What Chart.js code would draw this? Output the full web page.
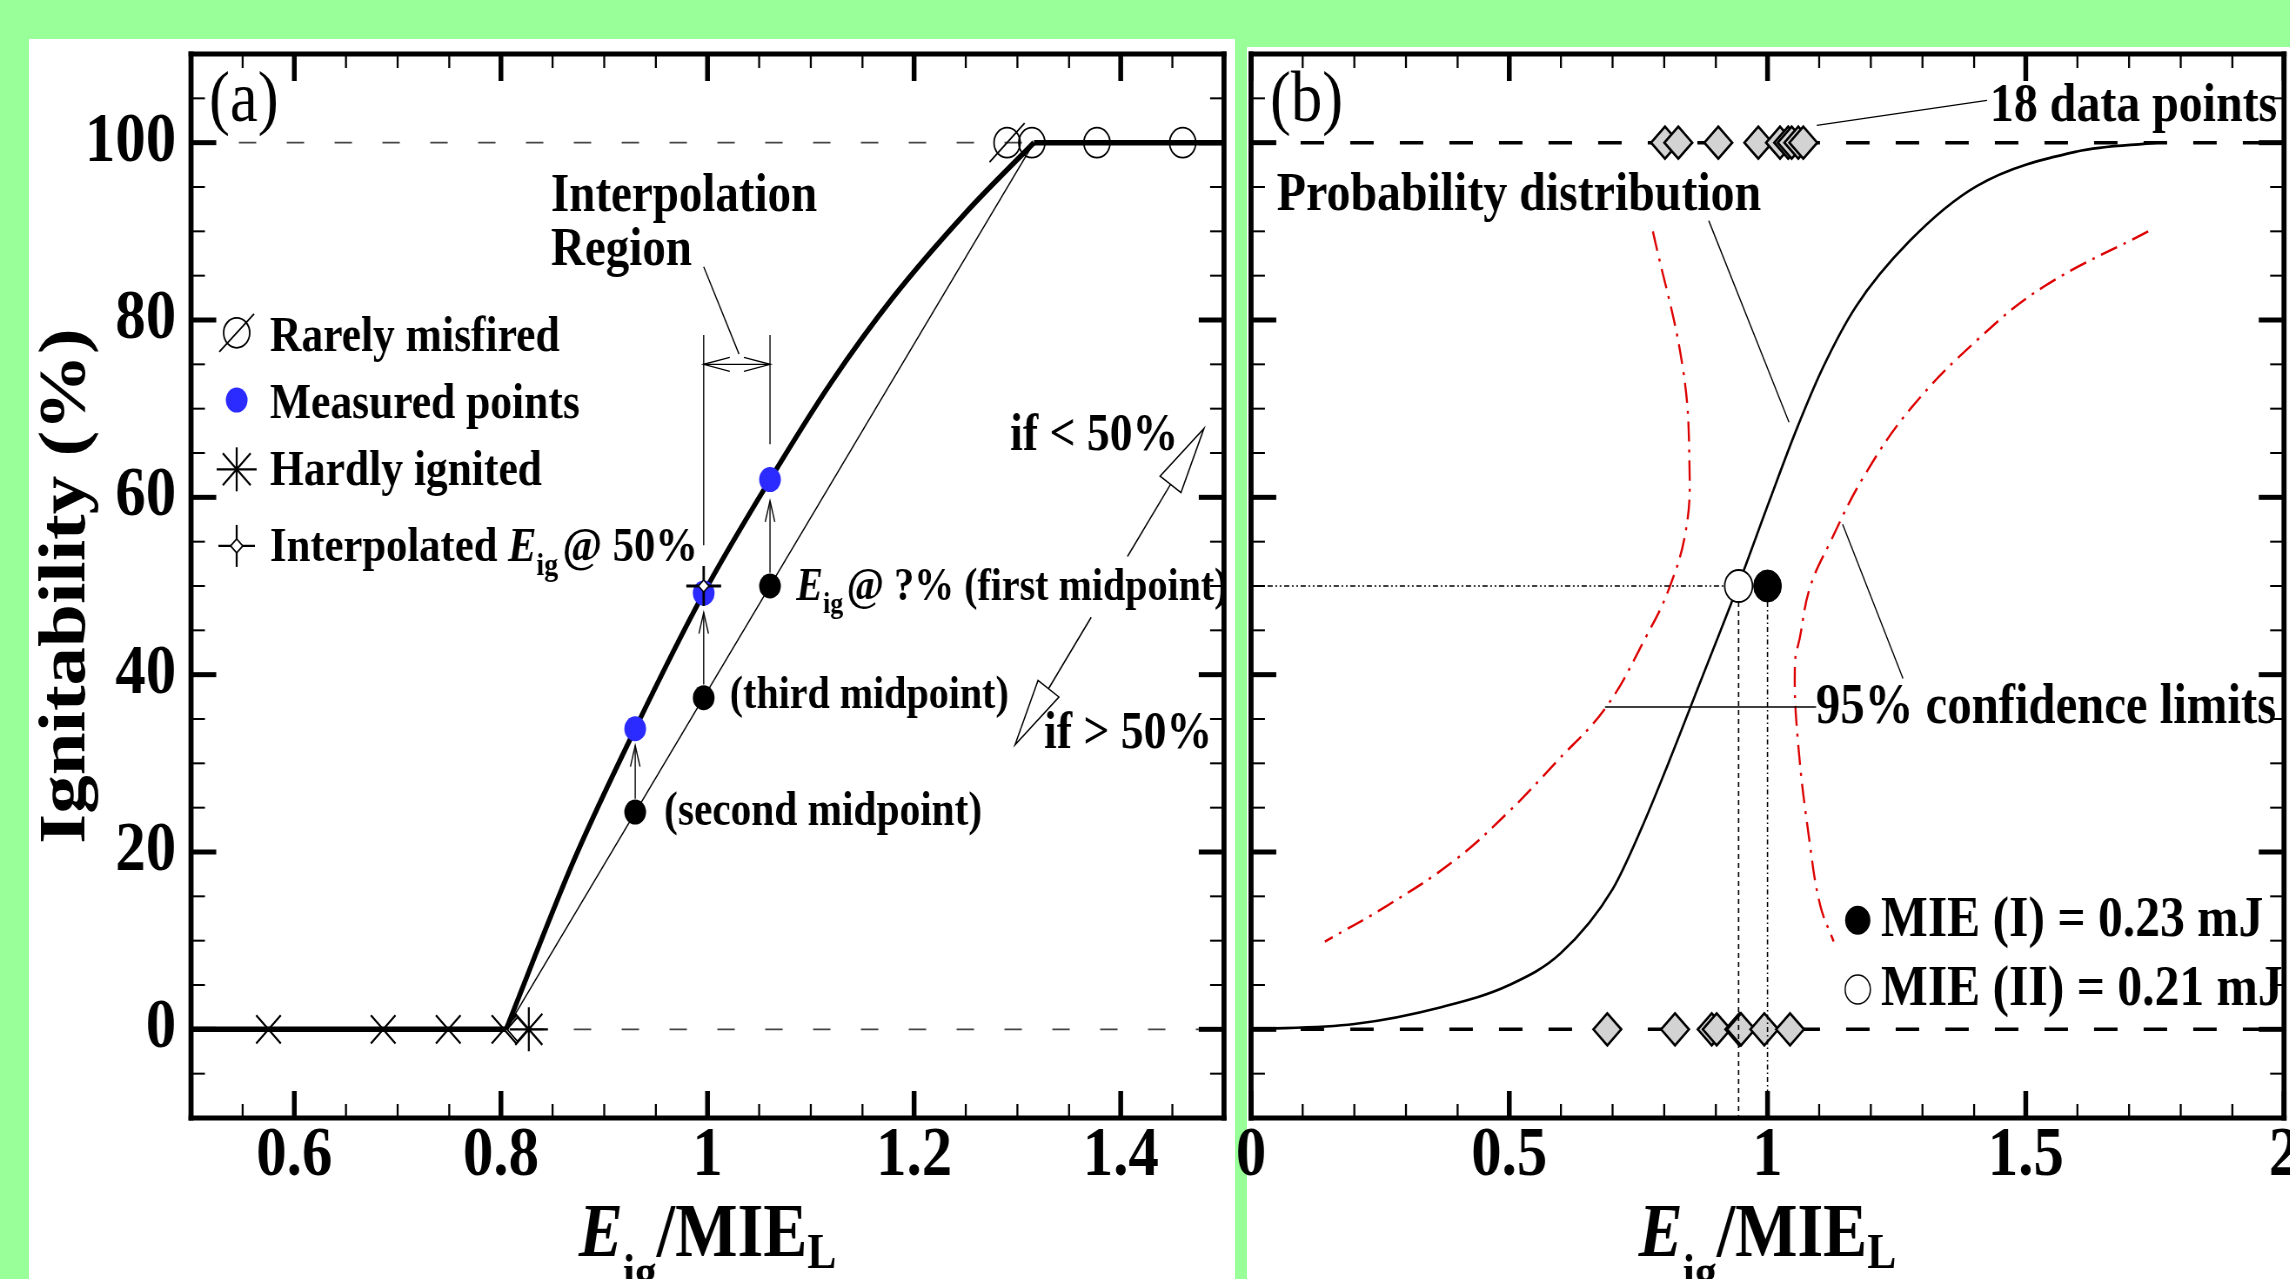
<!DOCTYPE html>
<html>
<head>
<meta charset="utf-8">
<script src="https://cdn.jsdelivr.net/npm/chart.js@4.4.1/dist/chart.umd.min.js"></script>
<style>
html,body{margin:0;padding:0;width:2290px;height:1279px;overflow:hidden;background:#99ff99;}
.panel{position:absolute;background:#ffffff;}
canvas{position:absolute;left:0;top:0;transform-origin:0 0;}
</style>
</head>
<body>
<div class="panel" style="left:29px;top:39px;width:1206px;height:1240px"></div>
<div class="panel" style="left:1247px;top:47px;width:1043px;height:1232px"></div>
<canvas id="ca"></canvas>
<canvas id="cb"></canvas>
<script>
// ================= DATA : panel (a) =================
const xTicksA = [0.6, 0.8, 1, 1.2, 1.4];
const xTickLabelsA = ['0.6', '0.8', '1', '1.2', '1.4'];
const yTicksA = [0, 20, 40, 60, 80, 100];
const yTickLabelsA = ['0', '20', '40', '60', '80', '100'];

const hardlyIgnitedX = [0.575, 0.686, 0.749, 0.803];   // x marks at 0 %
const hardlyStarX = [0.827];                          // asterisk at 0 %
const openDiamondX = [0.816];
const ignitedX = [1.314, 1.377, 1.46];                 // open circles at 100 %
const rarelyMisfiredX = [1.29];                        // slashed circle at 100 %
const measuredX = [0.930, 0.9963, 1.0605];
const measuredY = [33.9, 49.2, 62.0];
const midpointX = [1.0605, 0.9963, 0.930];
const midpointY = [50.0, 37.4, 24.5];
const interpX = [0.9963];
const interpY = [50];
const fitAX = [0.805, 0.87, 0.93, 0.9963, 1.0605, 1.12, 1.18, 1.25, 1.316];
const fitAY = [0, 18.9, 33.9, 49.2, 62.0, 73.0, 82.6, 92.1, 100];
const floorAX = [0.5, 0.805];
const floorAY = [0, 0];
const ceilAX = [1.316, 1.5];
const ceilAY = [100, 100];
const chordX = [0.805, 1.316];
const chordY = [0, 100];

// ================= DATA : panel (b) =================
const xTicksB = [0, 0.5, 1, 1.5, 2];
const xTickLabelsB = ['0', '0.5', '1', '1.5', '2'];
const probX = [0, 0.2, 0.368, 0.5, 0.6, 0.7, 0.757, 0.808, 0.87, 0.944, 1.003, 1.055, 1.107, 1.171, 1.275, 1.405, 1.599, 1.755];
const probY = [0, 0.6, 2.5, 5.0, 8.6, 15.8, 22.8, 30.0, 39.2, 50.2, 59.5, 67.5, 74.6, 81.5, 88.9, 95.1, 99.0, 100];
const lowerX = [0.778, 0.836, 0.849, 0.842, 0.81, 0.765, 0.687, 0.59, 0.5, 0.395, 0.265, 0.143];
const lowerY = [90, 74.6, 63.2, 56.3, 49.8, 44.3, 36.3, 30.1, 24.6, 19.1, 14, 9.9];
const upperX = [1.737, 1.536, 1.407, 1.277, 1.186, 1.121, 1.082, 1.063, 1.053, 1.059, 1.082, 1.102, 1.128];
const upperY = [90, 83.8, 77.8, 70, 62.3, 54.9, 49.8, 44.3, 41.1, 32.4, 20.9, 14, 9.9];
const ignitedB = [0.8015, 0.8273, 0.9047, 0.9822, 1.0242, 1.040, 1.0468, 1.0596, 1.0693];   // at 100 %
const misfiredB = [0.6898, 0.8209, 0.892, 0.9016, 0.9454, 0.947, 0.9487, 0.9938, 1.0436];  // at 0 %
const mieI = { x: 1.0, y: 50 };
const mieII = { x: 0.944, y: 50 };

// ================= helpers =================
const SQ = 0.87;                        // horizontal compression of the original figure
const CW = Math.round(2290 / SQ);
const CH = 1279;
const FONT = '"Liberation Serif", "Times New Roman", serif';
Chart.defaults.font.family = FONT;

const pts = (xs, ys) => xs.map((x, i) => ({ x, y: ys[i] }));
const row = (xs, y) => xs.map(x => ({ x, y }));

function lineDS(data, color, width, extra) {
  return Object.assign({ data, showLine: true, borderColor: color, backgroundColor: color,
    borderWidth: width, pointRadius: 0, fill: false }, extra || {});
}
function markDS(data, style, radius, fill, stroke, bw, extra) {
  return Object.assign({ data, showLine: false, pointStyle: style, pointRadius: radius,
    pointBackgroundColor: fill, pointBorderColor: stroke, pointBorderWidth: bw,
    backgroundColor: fill, borderColor: stroke }, extra || {});
}
function ln(ctx, x1, y1, x2, y2) { ctx.beginPath(); ctx.moveTo(x1, y1); ctx.lineTo(x2, y2); ctx.stroke(); }
function rich(ctx, x, y, parts, size, align) {
  const items = parts.map(p => {
    const t = p[0], f = p[1] || '';
    if (f.includes('g')) return { t: '', font: '', w: p[2], dy: 0 };
    const sub = f.includes('s');
    const sz = sub ? (p[3] || size * 0.66) : size;
    const font = (f.includes('i') ? 'italic ' : '') + (f.includes('r') ? '' : 'bold ') + sz + 'px ' + FONT;
    ctx.font = font;
    return { t, font, w: ctx.measureText(t).width, dy: sub ? (p[2] !== undefined ? p[2] : size * 0.26) : 0 };
  });
  const total = items.reduce((s, it) => s + it.w, 0);
  let cx = align === 'center' ? x - total / 2 : (align === 'right' ? x - total : x);
  ctx.textAlign = 'left'; ctx.textBaseline = 'alphabetic';
  for (const it of items) {
    if (it.t) { ctx.font = it.font; ctx.fillText(it.t, cx, y + it.dy); }
    cx += it.w;
  }
}
function vHead(ctx, tx, ty, ux, uy, len, half) {
  const bx = tx - ux * len, by = ty - uy * len, px = -uy, py = ux;
  ctx.beginPath();
  ctx.moveTo(bx + px * half, by + py * half); ctx.lineTo(tx, ty); ctx.lineTo(bx - px * half, by - py * half);
  ctx.stroke();
}
function triHead(ctx, tx, ty, ux, uy, len, half) {
  const bx = tx - ux * len, by = ty - uy * len, px = -uy, py = ux;
  ctx.beginPath();
  ctx.moveTo(tx, ty); ctx.lineTo(bx + px * half, by + py * half); ctx.lineTo(bx - px * half, by - py * half);
  ctx.closePath(); ctx.fillStyle = '#fff'; ctx.fill(); ctx.stroke(); ctx.fillStyle = '#000';
  return [bx, by];
}
function minorList(lo, hi, step, majors) {
  const out = [];
  for (let v = lo; v <= hi + 1e-9; v += step) {
    const r = Math.round(v * 1000) / 1000;
    if (!majors.some(m => Math.abs(m - r) < 1e-6)) out.push(r);
  }
  return out;
}
function framePlugin(cfg) {
  return {
    id: 'frame',
    afterDraw(chart) {
      const { ctx, chartArea: a } = chart;
      const xs = chart.scales.x, ys = chart.scales.y;
      ctx.save();
      ctx.strokeStyle = '#000'; ctx.lineCap = 'butt';
      const vt = (v, len, w) => { const X = xs.getPixelForValue(v); ctx.lineWidth = w; ln(ctx, X, a.bottom, X, a.bottom - len); ln(ctx, X, a.top, X, a.top + len); };
      const ht = (v, len, w) => { const Y = ys.getPixelForValue(v); ctx.lineWidth = w; ln(ctx, a.left, Y, a.left + len, Y); ln(ctx, a.right, Y, a.right - len, Y); };
      cfg.xMinor.forEach(v => vt(v, 14, 2.3));
      cfg.xMajor.forEach(v => vt(v, 27, 5.5));
      cfg.yMinor.forEach(v => ht(v, 16, 2));
      cfg.yMajor.forEach(v => ht(v, 29, 5));
      ctx.lineWidth = 5.8;
      ln(ctx, a.left, a.top - 2.5, a.left, a.bottom + 2.5);
      ln(ctx, a.right, a.top - 2.5, a.right, a.bottom + 2.5);
      ctx.lineWidth = 5;
      ln(ctx, a.left - 2.9, a.top, a.right + 2.9, a.top);
      ln(ctx, a.left - 2.9, a.bottom, a.right + 2.9, a.bottom);
      ctx.restore();
    }
  };
}
const tickFont = { family: FONT, weight: 'bold', size: 70, lineHeight: 1 };

// ================= annotations (a) =================
const annotateA = {
  id: 'annotateA',
  afterDatasetsDraw(chart) {
    const ctx = chart.ctx;
    const X = v => chart.scales.x.getPixelForValue(v);
    const Y = v => chart.scales.y.getPixelForValue(v);
    ctx.save();
    ctx.fillStyle = '#000'; ctx.strokeStyle = '#000';
    rich(ctx, X(0.5174), Y(102.4), [['(a)', 'r']], 72);

    // legend
    const lx = X(0.5442), tx = X(0.5765), fs = 50;
    ctx.lineWidth = 1.8;
    ctx.beginPath(); ctx.arc(lx, Y(78.55), 15, 0, Math.PI * 2); ctx.stroke();
    ln(ctx, lx - 20, Y(78.55) + 19, lx + 20, Y(78.55) - 19);
    rich(ctx, tx, Y(76.5), [['Rarely misfired']], fs);
    ctx.fillStyle = '#2b2bff';
    ctx.beginPath(); ctx.arc(lx, Y(70.97), 12.5, 0, Math.PI * 2); ctx.fill();
    ctx.fillStyle = '#000';
    rich(ctx, tx, Y(68.9), [['Measured points']], fs);
    const sy = Y(63.16);
    ctx.lineWidth = 2.2;
    ln(ctx, lx, sy - 22, lx, sy + 22); ln(ctx, lx - 23, sy, lx + 23, sy);
    ln(ctx, lx - 16, sy - 16, lx + 16, sy + 16); ln(ctx, lx - 16, sy + 16, lx + 16, sy - 16);
    rich(ctx, tx, Y(61.4), [['Hardly ignited']], fs);
    const iy = Y(54.52);
    ctx.lineWidth = 2.2;
    ln(ctx, lx, iy - 21, lx, iy + 21); ln(ctx, lx - 21, iy, lx + 21, iy);
    ctx.beginPath(); ctx.moveTo(lx - 7, iy); ctx.lineTo(lx, iy - 7); ctx.lineTo(lx + 7, iy); ctx.lineTo(lx, iy + 7); ctx.closePath();
    ctx.fillStyle = '#fff'; ctx.fill(); ctx.lineWidth = 1.6; ctx.stroke(); ctx.fillStyle = '#000';
    rich(ctx, tx, Y(52.8), [['Interpolated '], ['E', 'i'], ['ig', 's', 14, 32], ['', 'g', 5], ['@ 50%']], 49);

    // interpolation region
    rich(ctx, X(0.8485), Y(92.3), [['Interpolation']], 54);
    rich(ctx, X(0.8485), Y(86.2), [['Region']], 54);
    ctx.lineWidth = 1.4;
    ln(ctx, X(0.9963), Y(86.0), X(1.0305), Y(76.15));
    ln(ctx, X(0.9963), Y(78.3), X(0.9963), Y(54.6));
    ln(ctx, X(1.0605), Y(78.3), X(1.0605), Y(66.0));
    ln(ctx, X(0.9963), Y(75), X(1.0605), Y(75));
    vHead(ctx, X(0.9963), Y(75), -1, 0, 30, 7);
    vHead(ctx, X(1.0605), Y(75), 1, 0, 30, 7);

    // small vertical arrows midpoint -> measured
    ctx.lineWidth = 1.4;
    [[0.930, 26.0, 32.0], [0.9963, 38.9, 47.0], [1.0605, 51.5, 59.6]].forEach(a => {
      ln(ctx, X(a[0]), Y(a[1]), X(a[0]), Y(a[2]));
      vHead(ctx, X(a[0]), Y(a[2]), 0, -1, 21, 5.5);
    });

    // midpoint labels
    rich(ctx, X(1.086), Y(48.4), [['E', 'i'], ['ig', 's', 13, 30], ['', 'g', 4], ['@ ?% (first midpoint)']], 46);
    rich(ctx, X(1.0215), Y(36.2), [['(third midpoint)']], 46);
    rich(ctx, X(0.958), Y(23.0), [['(second midpoint)']], 47.5);
    rich(ctx, X(1.293), Y(65.3), [['if < 50%']], 52.5);
    rich(ctx, X(1.3258), Y(31.7), [['if > 50%']], 52.5);

    // big double arrow
    const T1x = X(1.4806), T1y = Y(67.78), T2x = X(1.2977), T2y = Y(32.1);
    const L = Math.hypot(T1x - T2x, T1y - T2y), ux = (T1x - T2x) / L, uy = (T1y - T2y) / L;
    ctx.lineWidth = 1.5;
    const b1 = triHead(ctx, T1x, T1y, ux, uy, 0.177 * L, 0.038 * L);
    const b2 = triHead(ctx, T2x, T2y, -ux, -uy, 0.177 * L, 0.038 * L);
    ln(ctx, b1[0], b1[1], T1x - ux * 0.405 * L, T1y - uy * 0.405 * L);
    ln(ctx, T1x - ux * 0.597 * L, T1y - uy * 0.597 * L, b2[0], b2[1]);

    // axis titles
    const a = chart.chartArea;
    rich(ctx, X(1.0), 1256, [['E', 'i'], ['ig', 's', 33, 50], ['/MIE'], ['L', 's', 12, 50]], 76, 'center');
    ctx.save();
    ctx.translate(96.6, (a.top + a.bottom) / 2);
    ctx.rotate(-Math.PI / 2);
    ctx.font = 'bold 77px ' + FONT; ctx.textAlign = 'center'; ctx.textBaseline = 'alphabetic';
    ctx.fillText('Ignitability (%)', 0, 0);
    ctx.restore();
    ctx.restore();
  }
};

// ================= annotations (b) =================
const annotateB = {
  id: 'annotateB',
  afterDatasetsDraw(chart) {
    const ctx = chart.ctx;
    const X = v => chart.scales.x.getPixelForValue(v);
    const Y = v => chart.scales.y.getPixelForValue(v);
    ctx.save();
    ctx.fillStyle = '#000'; ctx.strokeStyle = '#000';
    rich(ctx, X(0.0368), Y(102.5), [['(b)', 'r']], 72);
    rich(ctx, X(0.05), Y(92.37), [['Probability distribution']], 55);
    rich(ctx, X(1.4308), Y(102.47), [['18 data points']], 55);
    rich(ctx, X(1.0939), Y(34.52), [['95% confidence limits']], 56);
    ctx.lineWidth = 1.4;
    ln(ctx, X(0.8862), Y(91.21), X(1.0416), Y(68.46));
    ln(ctx, X(1.0953), Y(101.95), X(1.425), Y(104.77));
    ln(ctx, X(0.6854), Y(36.35), X(1.0939), Y(36.35));
    ln(ctx, X(1.1454), Y(56.97), X(1.2623), Y(39.56));
    // legend
    ctx.beginPath(); ctx.arc(X(1.1747), Y(12.31), 14.5, 0, Math.PI * 2); ctx.fill();
    rich(ctx, X(1.2198), Y(10.51), [['MIE (I) = 0.23 mJ']], 57);
    ctx.lineWidth = 1.5;
    ctx.beginPath(); ctx.arc(X(1.1747), Y(4.5), 14.5, 0, Math.PI * 2); ctx.stroke();
    rich(ctx, X(1.2198), Y(2.7), [['MIE (II) = 0.21 mJ']], 57);
    // axis title
    rich(ctx, X(1.0), 1256, [['E', 'i'], ['ig', 's', 33, 50], ['/MIE'], ['L', 's', 12, 50]], 76, 'center');
    ctx.restore();
  }
};

// ================= canvas setup =================
function setup(id) {
  const c = document.getElementById(id);
  c.width = CW; c.height = CH;
  c.style.width = CW + 'px'; c.style.height = CH + 'px';
  c.style.transform = 'scaleX(' + SQ + ')';
  return c;
}
const yMinorAll = minorList(-5, 105, 5, yTicksA);

// chart area in canvas units
const A_LEFT = 191 / SQ, A_RIGHT = 1224 / SQ, TOP = 54, BOTTOM = 1118;
const B_LEFT = 1251 / SQ, B_RIGHT = 2284 / SQ;

const commonOpts = {
  responsive: false, animation: false, devicePixelRatio: 1, events: [],
  plugins: { legend: { display: false }, tooltip: { enabled: false } }
};

new Chart(setup('ca'), {
  type: 'scatter',
  data: {
    datasets: [
      lineDS(pts([0.5, 1.5], [100, 100]), '#444', 1.6, { borderDash: [20, 35], order: 20 }),
      lineDS(pts([0.5, 1.5], [0, 0]), '#444', 1.6, { borderDash: [20, 35], order: 20 }),
      lineDS(pts(chordX, chordY), '#000', 1.5, { order: 12 }),
      lineDS(pts(floorAX, floorAY), '#000', 5.5, { order: 10 }),
      lineDS(pts(fitAX, fitAY), '#000', 5.5, { cubicInterpolationMode: 'monotone', order: 10 }),
      lineDS(pts(ceilAX, ceilAY), '#000', 5.5, { order: 10 }),
      markDS(row(ignitedX, 100), 'circle', 15, 'rgba(0,0,0,0)', '#000', 1.8, { order: 5 }),
      markDS(row(rarelyMisfiredX, 100), 'circle', 15, 'rgba(0,0,0,0)', '#000', 1.8, { order: 5 }),
      markDS(row(rarelyMisfiredX, 100), 'line', 28, '#000', '#000', 1.8, { pointRotation: -44, order: 5 }),
      markDS(row(hardlyIgnitedX, 0), 'crossRot', 20, '#000', '#000', 2.2, { order: 5 }),
      markDS(row(hardlyStarX, 0), 'star', 22, '#000', '#000', 2.2, { order: 5 }),
      markDS(row(openDiamondX, 0), 'rectRot', 12, 'rgba(0,0,0,0)', '#000', 1.8, { order: 5 }),
      markDS(pts(measuredX, measuredY), 'circle', 12.5, '#2b2bff', '#2b2bff', 0, { order: 3 }),
      markDS(pts(midpointX, midpointY), 'circle', 12.5, '#000', '#000', 0, { order: 3 }),
      markDS(pts(interpX, interpY), 'cross', 20, '#000', '#000', 2.8, { order: 2 }),
      markDS(pts(interpX, interpY), 'rectRot', 6, '#fff', '#000', 1.5, { order: 1 })
    ]
  },
  options: Object.assign({}, commonOpts, {
    layout: { autoPadding: false, padding: { left: 0, right: CW - A_RIGHT, top: TOP, bottom: 0 } },
    scales: {
      x: {
        type: 'linear', min: 0.5, max: 1.5,
        afterBuildTicks: s => { s.ticks = xTicksA.map(v => ({ value: v })); },
        afterFit: s => { s.height = CH - BOTTOM; s.paddingLeft = 0; s.paddingRight = 0; },
        grid: { display: false, drawTicks: false }, border: { display: false },
        ticks: { font: tickFont, color: '#000', padding: 4, maxRotation: 0, autoSkip: false,
          callback: (v, i) => xTickLabelsA[i] }
      },
      y: {
        type: 'linear', min: -10, max: 110,
        afterBuildTicks: s => { s.ticks = yTicksA.map(v => ({ value: v })); },
        afterFit: s => { s.width = A_LEFT; s.paddingTop = 0; s.paddingBottom = 0; },
        grid: { display: false, drawTicks: false }, border: { display: false },
        ticks: { font: tickFont, color: '#000', padding: 17, autoSkip: false,
          callback: (v, i) => yTickLabelsA[i] }
      }
    }
  }),
  plugins: [annotateA, framePlugin({
    xMajor: xTicksA, xMinor: minorList(0.55, 1.45, 0.05, xTicksA),
    yMajor: yTicksA, yMinor: yMinorAll
  })]
});

new Chart(setup('cb'), {
  type: 'scatter',
  data: {
    datasets: [
      lineDS(pts([0, 2], [100, 100]), '#000', 3.5, { borderDash: [27, 30], order: 20 }),
      lineDS(pts([0, 2], [0, 0]), '#000', 3.5, { borderDash: [27, 30], order: 20 }),
      lineDS(pts(probX, probY), '#000', 2.6, { cubicInterpolationMode: 'monotone', order: 10 }),
      lineDS(pts(lowerX, lowerY), '#dd0000', 2.4, { tension: 0.4, borderDash: [20, 8, 3, 8], order: 11 }),
      lineDS(pts(upperX, upperY), '#dd0000', 2.4, { tension: 0.4, borderDash: [20, 8, 3, 8], order: 11 }),
      lineDS(pts([0, mieII.x], [50, 50]), '#000', 1.6, { borderDash: [6, 3, 2, 3, 2, 3], order: 9 }),
      markDS(row(ignitedB, 100), 'rectRot', 16, '#d3d3d3', '#000', 2.6, { order: 6 }),
      markDS(row(misfiredB, 0), 'rectRot', 16, '#d3d3d3', '#000', 2.6, { order: 6 }),
      lineDS(pts([mieII.x, mieII.x], [48.2, -10]), '#000', 1.6, { borderDash: [5, 4], order: 2 }),
      lineDS(pts([mieI.x, mieI.x], [48.2, -10]), '#000', 1.6, { borderDash: [5, 3, 1.5, 3], order: 2 }),
      markDS([mieII], 'circle', 16, '#fff', '#000', 1.8, { order: 3 }),
      markDS([mieI], 'circle', 16, '#000', '#000', 1, { order: 3 })
    ]
  },
  options: Object.assign({}, commonOpts, {
    layout: { autoPadding: false, padding: { left: B_LEFT, right: CW - B_RIGHT, top: TOP, bottom: 0 } },
    scales: {
      x: {
        type: 'linear', min: 0, max: 2,
        afterBuildTicks: s => { s.ticks = xTicksB.map(v => ({ value: v })); },
        afterFit: s => { s.height = CH - BOTTOM; s.paddingLeft = 0; s.paddingRight = 0; },
        grid: { display: false, drawTicks: false }, border: { display: false },
        ticks: { font: tickFont, color: '#000', padding: 4, maxRotation: 0, autoSkip: false,
          callback: (v, i) => xTickLabelsB[i] }
      },
      y: {
        type: 'linear', min: -10, max: 110, display: false
      }
    }
  }),
  plugins: [annotateB, framePlugin({
    xMajor: xTicksB, xMinor: minorList(0.1, 1.9, 0.1, xTicksB),
    yMajor: yTicksA, yMinor: yMinorAll
  })]
});
</script>
</body>
</html>
